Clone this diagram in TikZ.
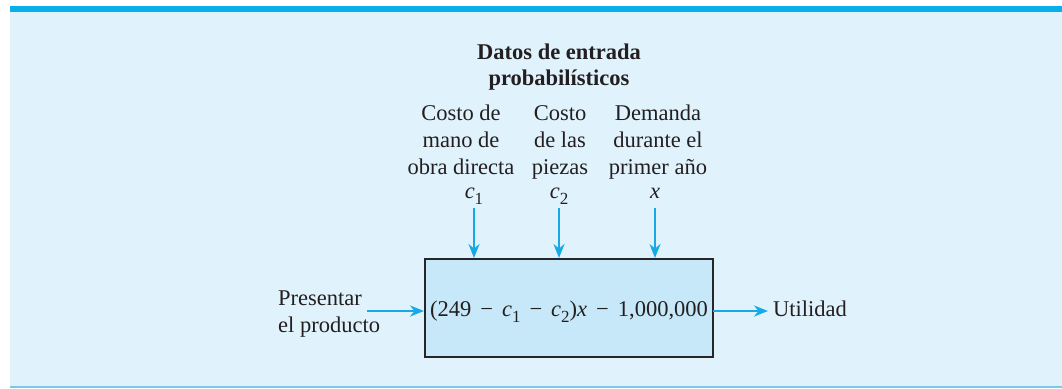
\documentclass[tikz,border=0pt]{standalone}
\usepackage{fontspec}
\setmainfont{Liberation Serif}
\usetikzlibrary{arrows.meta}
\definecolor{panel}{HTML}{E0F2FC}
\definecolor{topbar}{HTML}{0AAEEA}
\definecolor{boxfill}{HTML}{C6E8F8}
\definecolor{arr}{HTML}{17A9E6}
\definecolor{botline}{HTML}{80C6E8}
\definecolor{txt}{HTML}{231F20}
\newcommand\mysub[1]{\raisebox{-0.28em}{\fontsize{17}{17}\selectfont #1}}
\newcommand\mymin{\hspace{0.4em}−\hspace{0.4em}}
\tikzset{
  lbl/.style={text=txt, font=\fontsize{22.5}{27}\selectfont, inner sep=0pt, align=center},
  ttl/.style={text=txt, font=\fontsize{22.5}{26}\selectfont\bfseries, inner sep=0pt, align=center},
  flow/.style={draw=arr, line width=2pt, -{Stealth[length=14pt,width=11pt]}},
  mainbox/.style={draw=black!85, line width=2pt, fill=boxfill, minimum width=288pt, minimum height=98pt, inner sep=0pt}
}
\begin{document}
\begin{tikzpicture}[x=1pt,y=-1pt]
\useasboundingbox (0,0) rectangle (1062,388);
\fill[panel] (10,12) rectangle (1062,388);
\fill[topbar] (10,6) rectangle (1062,12);
\fill[botline] (10,386) rectangle (1062,388);

\node[ttl, anchor=base] (title) at (559,85) {Datos de entrada\\probabilísticos};

\node[lbl, anchor=base] (col1) at (461,174) {Costo de\\mano de\\obra directa};
\node[lbl, anchor=base] (col2) at (560,174) {Costo\\de las\\piezas};
\node[lbl, anchor=base] (col3) at (658,174) {Demanda\\durante el\\primer año};

\node[lbl, anchor=base] (v1) at (474,198) {\textit{c}\mysub{1}};
\node[lbl, anchor=base] (v2) at (559,198) {\textit{c}\mysub{2}};
\node[lbl, anchor=base] (v3) at (655,198) {\textit{x}};

\node[mainbox] (box) at (569,308) {};
\node[lbl, anchor=base] (formula) at (569,316) {(249\mymin\textit{c}\mysub{1}\mymin\textit{c}\mysub{2})\textit{x}\mymin 1,000,000};

\coordinate (a1) at (474,208);
\coordinate (a2) at (559,208);
\coordinate (a3) at (655,208);
\draw[flow] (a1) -- (a1 |- box.north);
\draw[flow] (a2) -- (a2 |- box.north);
\draw[flow] (a3) -- (a3 |- box.north);

\node[lbl, anchor=base west, align=left] (inp) at (278,332) {Presentar\\el producto};
\coordinate (inend) at (367,311);
\draw[flow] (inend) -- (inend -| box.west);

\node[lbl, anchor=base west] (out) at (773,316) {Utilidad};
\coordinate (outst) at (713,311);
\draw[flow, shorten >=5pt] (outst) -- (out.west |- outst);
\end{tikzpicture}
\end{document}
